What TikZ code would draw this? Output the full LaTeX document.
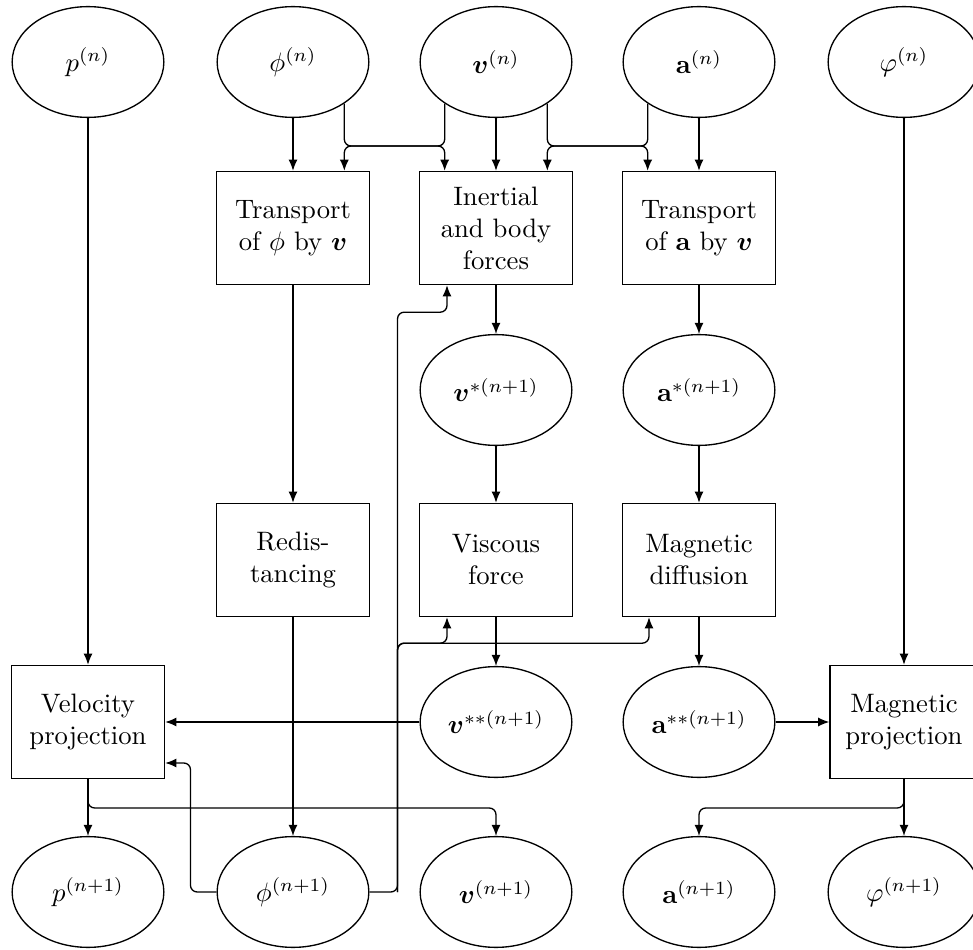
\documentclass[tikz,border=0pt]{standalone}
\usepackage{amsmath}
\usetikzlibrary{shapes.geometric, arrows.meta, calc}

\begin{document}
\begin{tikzpicture}[x=0.01318cm, y=-0.01318cm,
    quantity/.style = {ellipse, draw, line width=0.5pt, minimum width=2cm, minimum height=1.46cm, inner sep=0pt},
    process/.style = {rectangle, draw, line width=0.5pt, minimum width=2.02cm, minimum height=1.49cm, align=center, inner sep=1pt},
    flow/.style = {-{Latex[length=4.2pt,width=3.4pt]}, line width=0.5pt},
    elbow/.style = {flow, rounded corners=2.5pt}]
\useasboundingbox (0,0) rectangle (973,950);

% inputs
\node[quantity] (pn) at (88,62) {$p^{(n)}$};
\node[quantity] (phin) at (293,62) {$\phi^{(n)}$};
\node[quantity] (vn) at (496,62) {$\boldsymbol{v}^{(n)}$};
\node[quantity] (an) at (699,62) {$\mathbf{a}^{(n)}$};
\node[quantity] (varphin) at (904,62) {$\varphi^{(n)}$};

% first stage
\node[process] (transphi) at (293,228) {Transport\\of $\phi$ by $\boldsymbol{v}$};
\node[process] (inertial) at (496,228) {Inertial\\and body\\forces};
\node[process] (transa) at (699,228) {Transport\\of $\mathbf{a}$ by $\boldsymbol{v}$};

\node[quantity] (vstar) at (496,390) {$\boldsymbol{v}^{*(n+1)}$};
\node[quantity] (astar) at (699,390) {$\mathbf{a}^{*(n+1)}$};

% second stage
\node[process] (redist) at (293,560) {Redis-\\tancing};
\node[process] (viscous) at (496,560) {Viscous\\force};
\node[process] (magdiff) at (699,560) {Magnetic\\diffusion};

% projections
\node[process] (velproj) at (88,722) {Velocity\\projection};
\node[quantity] (vss) at (496,722) {$\boldsymbol{v}^{**(n+1)}$};
\node[quantity] (ass) at (699,722) {$\mathbf{a}^{**(n+1)}$};
\node[process, minimum width=1.95cm] (magproj) at (904,722) {Magnetic\\projection};

% outputs
\node[quantity] (pnew) at (88,892) {$p^{(n+1)}$};
\node[quantity] (phinew) at (293,892) {$\phi^{(n+1)}$};
\node[quantity] (vnew) at (496,892) {$\boldsymbol{v}^{(n+1)}$};
\node[quantity] (anew) at (699,892) {$\mathbf{a}^{(n+1)}$};
\node[quantity] (varphinew) at (904,892) {$\varphi^{(n+1)}$};

\coordinate (bus) at (0,146);
\coordinate (busb) at (0,808);
\coordinate (riser) at ($(phinew.east)+(28,0)$);

% straight arrows
\draw[flow] (pn) -- (velproj);
\draw[flow] (phin) -- (transphi);
\draw[flow] (vn) -- (inertial);
\draw[flow] (an) -- (transa);
\draw[flow] (varphin) -- (magproj);
\draw[flow] (transphi) -- (redist);
\draw[flow] (redist) -- (phinew);
\draw[flow] (inertial) -- (vstar);
\draw[flow] (vstar) -- (viscous);
\draw[flow] (viscous) -- (vss);
\draw[flow] (transa) -- (astar);
\draw[flow] (astar) -- (magdiff);
\draw[flow] (magdiff) -- (ass);
\draw[flow] (vss) -- (vss -| velproj.east);
\draw[flow] (ass) -- (ass -| magproj.west);
\draw[flow] (velproj) -- (pnew);
\draw[flow] (magproj) -- (varphinew);

% crossings at the top
\draw[elbow] (phin.-39) |- (bus -| vn.-141) -- (vn.-141 |- inertial.north);
\draw[elbow] (vn.-141) |- (bus -| phin.-39) -- (phin.-39 |- transphi.north);
\draw[elbow] (vn.-39) |- (bus -| an.-141) -- (an.-141 |- transa.north);
\draw[elbow] (an.-141) |- (bus -| vn.-39) -- (vn.-39 |- inertial.north);

% feedback of phi(n+1)
\draw[elbow] (phinew.west) -- ++(-26,0) |- ($(velproj.east)+(0,41)$);
\draw[elbow] (phinew.east) -- (riser) |- ($(inertial.south)+(-49,27)$) -- ($(inertial.south)+(-49,0)$);
\draw[elbow] (riser) |- ($(viscous.south)+(-49,26)$) -- ($(viscous.south)+(-49,0)$);
\draw[elbow] (riser) |- ($(magdiff.south)+(-50,26)$) -- ($(magdiff.south)+(-50,0)$);

% outputs of the projections
\draw[elbow] (velproj.south) |- (busb -| vnew.north) -- (vnew.north);
\draw[elbow] (magproj.south) |- (busb -| anew.north) -- (anew.north);

\end{tikzpicture}
\end{document}
